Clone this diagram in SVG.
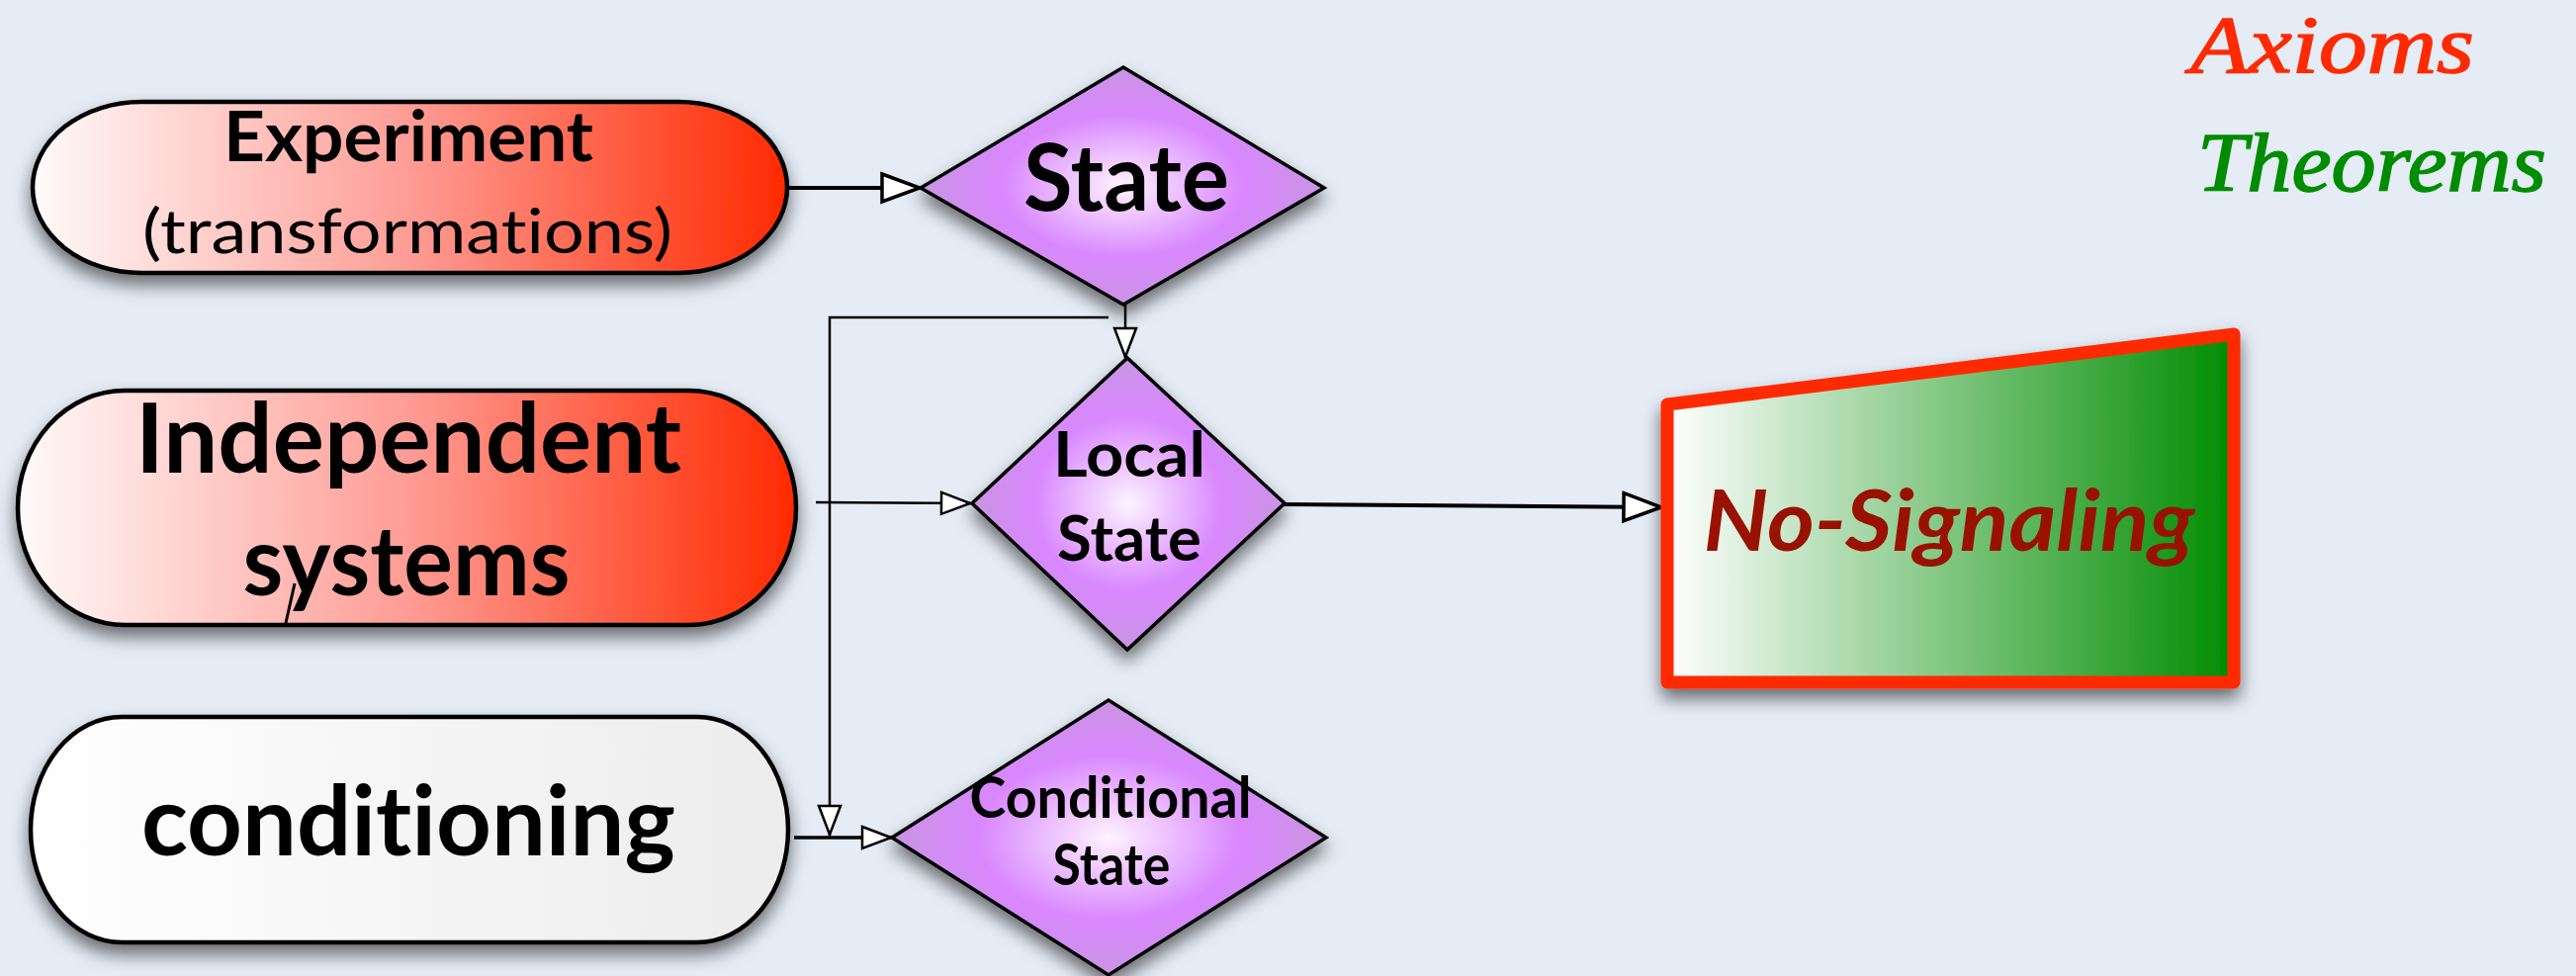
<svg xmlns="http://www.w3.org/2000/svg" width="2605" height="987" viewBox="0 0 2605 987">
<defs>
<style>
text{font-variant-ligatures:none;font-feature-settings:"liga" 0,"clig" 0}
.lbl{font-family:Lato,"Open Sans","Liberation Sans",sans-serif;font-weight:bold;fill:#000;text-anchor:middle}
.thin{font-weight:normal}
.pill{stroke:#000;stroke-width:4.5}
.dia{stroke:#000;stroke-width:3.5;stroke-linejoin:miter;fill:url(#violet)}
.conn{fill:none;stroke:#000}
.legend{font-family:"Liberation Serif","DejaVu Serif",serif;font-style:italic;stroke-width:1.5}
</style>
<linearGradient id="red" x1="0" y1="0" x2="1" y2="0">
<stop offset="0" stop-color="#fffafa"/>
<stop offset="0.5" stop-color="#ff9c95"/>
<stop offset="1" stop-color="#ff2a00"/>
</linearGradient>
<linearGradient id="white" x1="0" y1="0" x2="1" y2="0">
<stop offset="0" stop-color="#ffffff"/>
<stop offset="1" stop-color="#ececec"/>
</linearGradient>
<linearGradient id="green" x1="0" y1="0" x2="1" y2="0">
<stop offset="0" stop-color="#ffffff"/>
<stop offset="1" stop-color="#008c00"/>
</linearGradient>
<radialGradient id="violet" cx="0.5" cy="0.5" r="0.5">
<stop offset="0" stop-color="#fdf3ff"/>
<stop offset="0.6" stop-color="#d987ff"/>
<stop offset="1" stop-color="#c994e2"/>
</radialGradient>
<filter id="shadow" x="-10%" y="-15%" width="120%" height="140%">
<feDropShadow dx="0" dy="10" stdDeviation="9" flood-color="#000" flood-opacity="0.55"/>
</filter>
<marker id="bigArrow" markerUnits="userSpaceOnUse" viewBox="0 0 44 34" markerWidth="44" markerHeight="34" refX="42" refY="17" orient="auto">
<path d="M3,3 L41,17 L3,31 Z" fill="#fff" stroke="#000" stroke-width="3.5" stroke-linejoin="miter"/>
</marker>
<marker id="smallArrow" markerUnits="userSpaceOnUse" viewBox="0 0 34 26" markerWidth="34" markerHeight="26" refX="32" refY="13" orient="auto">
<path d="M2,2 L31,13 L2,24 Z" fill="#fff" stroke="#000" stroke-width="2.5" stroke-linejoin="miter"/>
</marker>
</defs>

<rect x="0" y="0" width="2605" height="987" fill="#e5ecf5"/>

<g id="legend">
<text class="legend" x="2215" y="73" font-size="82" fill="#ff2a00" stroke="#ff2a00" textLength="287" lengthAdjust="spacingAndGlyphs">Axioms</text>
<text class="legend" x="2222" y="193" font-size="85" fill="#008c00" stroke="#008c00" textLength="353" lengthAdjust="spacingAndGlyphs">Theorems</text>
</g>

<g id="connectors">
<path class="conn" stroke-width="4" d="M796,190 L931,190" marker-end="url(#bigArrow)"/>
<path class="conn" stroke-width="2.5" d="M1138,308 L1138,362" marker-end="url(#smallArrow)"/>
<path class="conn" stroke-width="2.5" d="M1121,321 L839,321 L839,845" marker-end="url(#smallArrow)"/>
<path class="conn" stroke-width="2.5" d="M825,508 L982,509" marker-end="url(#smallArrow)"/>
<path class="conn" stroke-width="3.5" d="M803,847 L902,847" marker-end="url(#smallArrow)"/>
<path class="conn" stroke-width="4" d="M1298,510 L1681,513" marker-end="url(#bigArrow)"/>
</g>

<g id="experiment">
<rect class="pill" x="33" y="103" width="763" height="173" rx="110" ry="86.5" fill="url(#red)" filter="url(#shadow)"/>
<text class="lbl" x="413" y="163" font-size="70" textLength="374" lengthAdjust="spacingAndGlyphs">Experiment</text>
<text class="lbl thin" x="412" y="256" font-size="62" textLength="536" lengthAdjust="spacingAndGlyphs">(transformations)</text>
</g>

<g id="independent">
<rect class="pill" x="18" y="395" width="787" height="237" rx="108" ry="118.5" fill="url(#red)" filter="url(#shadow)"/>
<text class="lbl" x="413" y="478" font-size="97" textLength="552" lengthAdjust="spacingAndGlyphs">Independent</text>
<text class="lbl" x="411" y="602" font-size="97" textLength="331" lengthAdjust="spacingAndGlyphs">systems</text>
<line x1="298" y1="590" x2="289" y2="630" stroke="#000" stroke-width="3"/>
</g>

<g id="conditioning">
<rect class="pill" x="31" y="725" width="766" height="228" rx="92" ry="114" fill="url(#white)" filter="url(#shadow)"/>
<text class="lbl" x="413" y="865" font-size="97" textLength="540" lengthAdjust="spacingAndGlyphs">conditioning</text>
</g>

<g id="state">
<polygon class="dia" points="931,190 1136,68 1339,190 1136,308" filter="url(#shadow)"/>
<text class="lbl" x="1139" y="213" font-size="94" textLength="208" lengthAdjust="spacingAndGlyphs">State</text>
</g>

<g id="local-state">
<polygon class="dia" points="983,509 1140,362 1299,509 1140,657" filter="url(#shadow)"/>
<text class="lbl" x="1142" y="482" font-size="63" textLength="154" lengthAdjust="spacingAndGlyphs">Local</text>
<text class="lbl" x="1142" y="567" font-size="63" textLength="146" lengthAdjust="spacingAndGlyphs">State</text>
</g>

<g id="conditional-state">
<polygon class="dia" points="902,847 1121,708 1341,847 1121,986" filter="url(#shadow)"/>
<text class="lbl" x="1123" y="827" font-size="57" textLength="285" lengthAdjust="spacingAndGlyphs">Conditional</text>
<text class="lbl" x="1124" y="895" font-size="57" textLength="119" lengthAdjust="spacingAndGlyphs">State</text>
</g>

<g id="no-signaling">
<path d="M1686,409 L2259,338 L2259,690 L1686,690 Z" fill="url(#green)" stroke="#ff2a00" stroke-width="13" stroke-linejoin="round" filter="url(#shadow)"/>
<text class="lbl" x="1971" y="557" font-size="86" font-style="italic" style="fill:#991100" textLength="497" lengthAdjust="spacingAndGlyphs">No-Signaling</text>
</g>
</svg>
